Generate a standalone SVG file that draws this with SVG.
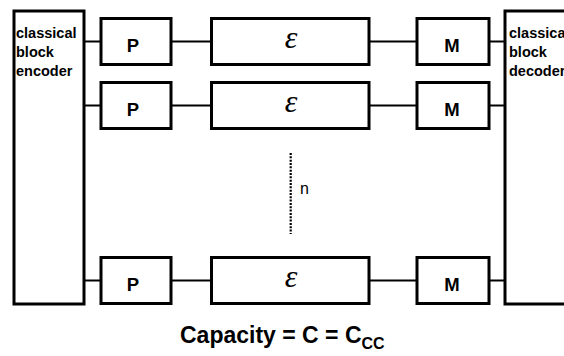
<svg xmlns="http://www.w3.org/2000/svg" width="564" height="356" viewBox="0 0 564 356">
  <style>
    .box { fill: #ffffff; stroke: #000000; stroke-width: 3; }
    .wire { stroke: #000000; stroke-width: 2; fill: none; }
    .lbl { font-family: "Liberation Sans", Arial, sans-serif; font-weight: bold; fill: #000000; }
    .blk { font-size: 14.5px; }
    .op { font-size: 18.5px; text-anchor: middle; }
    .ch { font-family: "Liberation Serif", "Times New Roman", serif; font-size: 32px; font-style: italic; text-anchor: middle; fill: #000000; }
  </style>
  <rect width="564" height="356" fill="#ffffff"/>

  <!-- connectors -->
  <g id="connectors">
    <line class="wire" x1="84" y1="41.5" x2="101" y2="41.5"/>
    <line class="wire" x1="171" y1="41.5" x2="211.5" y2="41.5"/>
    <line class="wire" x1="369" y1="41.5" x2="417" y2="41.5"/>
    <line class="wire" x1="489" y1="41.5" x2="505" y2="41.5"/>

    <line class="wire" x1="84" y1="105.5" x2="101" y2="105.5"/>
    <line class="wire" x1="171" y1="105.5" x2="211.5" y2="105.5"/>
    <line class="wire" x1="369" y1="105.5" x2="417" y2="105.5"/>
    <line class="wire" x1="489" y1="105.5" x2="505" y2="105.5"/>

    <line class="wire" x1="84" y1="280.5" x2="101" y2="280.5"/>
    <line class="wire" x1="171" y1="280.5" x2="211.5" y2="280.5"/>
    <line class="wire" x1="369" y1="280.5" x2="417" y2="280.5"/>
    <line class="wire" x1="489" y1="280.5" x2="505" y2="280.5"/>
  </g>

  <!-- classical block encoder -->
  <g id="encoder">
    <rect class="box" x="14" y="11" width="70" height="293"/>
    <text class="lbl blk" x="16" y="37.5">classical</text>
    <text class="lbl blk" x="16" y="56.5">block</text>
    <text class="lbl blk" x="16" y="75.5">encoder</text>
  </g>

  <!-- classical block decoder (runs past the right edge) -->
  <g id="decoder">
    <rect class="box" x="505" y="11" width="80" height="293"/>
    <text class="lbl blk" x="509" y="37.5">classical</text>
    <text class="lbl blk" x="509" y="56.5">block</text>
    <text class="lbl blk" x="509" y="75.5">decoder</text>
  </g>

  <!-- row 1 -->
  <g id="p1">
    <rect class="box" x="101" y="18.5" width="70" height="46"/>
    <text class="lbl op" x="133" y="51.5">P</text>
  </g>
  <g id="e1">
    <rect class="box" x="211.5" y="18.5" width="157.5" height="46"/>
    <text class="ch" x="291" y="48">ε</text>
  </g>
  <g id="m1">
    <rect class="box" x="417" y="18.5" width="72" height="46"/>
    <text class="lbl op" x="452" y="51.5">M</text>
  </g>

  <!-- row 2 -->
  <g id="p2">
    <rect class="box" x="101" y="82.5" width="70" height="46"/>
    <text class="lbl op" x="133" y="115.5">P</text>
  </g>
  <g id="e2">
    <rect class="box" x="211.5" y="82.5" width="157.5" height="46"/>
    <text class="ch" x="291" y="112">ε</text>
  </g>
  <g id="m2">
    <rect class="box" x="417" y="82.5" width="72" height="46"/>
    <text class="lbl op" x="452" y="115.5">M</text>
  </g>

  <!-- row n -->
  <g id="p3">
    <rect class="box" x="101" y="257.5" width="70" height="46"/>
    <text class="lbl op" x="133" y="290.5">P</text>
  </g>
  <g id="e3">
    <rect class="box" x="211.5" y="257.5" width="157.5" height="46"/>
    <text class="ch" x="291" y="287">ε</text>
  </g>
  <g id="m3">
    <rect class="box" x="417" y="257.5" width="72" height="46"/>
    <text class="lbl op" x="452" y="290.5">M</text>
  </g>

  <!-- elided rows -->
  <g id="ellipsis">
    <line x1="290.7" y1="153" x2="290.7" y2="234" stroke="#000000" stroke-width="2.2" stroke-dasharray="2 1.33"/>
    <text x="300" y="193.5" font-family="'Liberation Sans', Arial, sans-serif" font-size="16" fill="#000000">n</text>
  </g>

  <!-- capacity caption -->
  <g id="caption">
    <text class="lbl" x="180" y="342.5" font-size="23">Capacity = C = C<tspan font-size="16" dy="6">CC</tspan></text>
  </g>
</svg>
